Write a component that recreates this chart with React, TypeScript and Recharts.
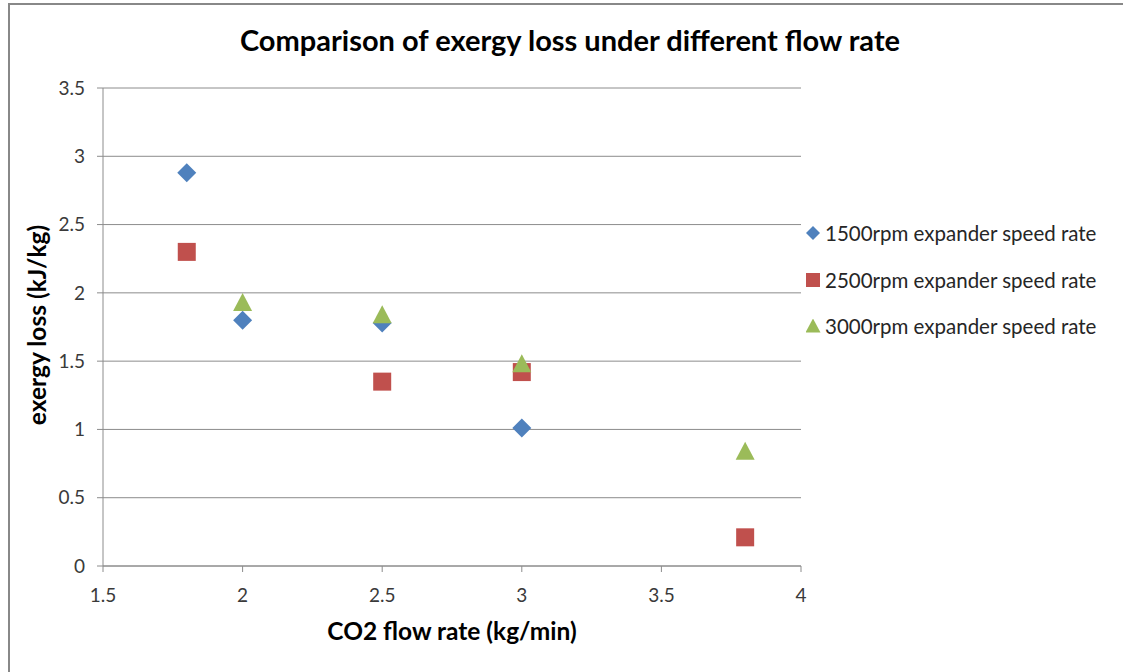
import React from "react";
import {
  CartesianGrid,
  Scatter,
  ScatterChart,
  XAxis,
  YAxis,
} from "recharts";

const flow1500 = [1.8, 2, 2.5, 3];
const loss1500 = [2.88, 1.8, 1.78, 1.01];
const flow2500 = [1.8, 2.5, 3, 3.8];
const loss2500 = [2.3, 1.35, 1.42, 0.21];
const flow3000 = [2, 2.5, 3, 3.8];
const loss3000 = [1.93, 1.84, 1.48, 0.84];

const xTicks = [1.5, 2, 2.5, 3, 3.5, 4];
const yTicks = [0, 0.5, 1, 1.5, 2, 2.5, 3, 3.5];

const seriesNames = [
  "1500rpm expander speed rate",
  "2500rpm expander speed rate",
  "3000rpm expander speed rate",
];

const BLUE = "#4F81BD";
const RED = "#C0504D";
const GREEN = "#9BBB59";
const GRID = "#8c8c8c";
const TEXT = "#3a3a3a";
const FONT = "Lato, 'Open Sans', sans-serif";

function toPoints(xs: number[], ys: number[]) {
  return xs.map((x, i) => ({ x, y: ys[i] }));
}

function Diamond({ cx, cy, r = 9.5, fill = BLUE }: any) {
  return (
    <path
      d={`M${cx},${cy - r} L${cx + r},${cy} L${cx},${cy + r} L${cx - r},${cy} Z`}
      fill={fill}
    />
  );
}

function Square({ cx, cy, r = 9, fill = RED }: any) {
  return <rect x={cx - r} y={cy - r} width={r * 2} height={r * 2} fill={fill} />;
}

function Triangle({ cx, cy, r = 9.5, fill = GREEN }: any) {
  return (
    <path
      d={`M${cx},${cy - r} L${cx + r},${cy + r - 1} L${cx - r},${cy + r - 1} Z`}
      fill={fill}
    />
  );
}

// legend drawn beside the plot, like Excel's right-hand legend
function LegendBox() {
  const markers = [
    <Diamond cx={7} cy={7} r={7} />,
    <Square cx={7} cy={7} r={7} />,
    <Triangle cx={7} cy={7} r={7.5} />,
  ];
  return (
    <div
      style={{
        position: "absolute",
        left: 806,
        top: 210,
        fontFamily: FONT,
        fontSize: 20.5,
        color: "#262626",
      }}
    >
      {seriesNames.map((name, i) => (
        <div
          key={name}
          style={{ display: "flex", alignItems: "center", height: 46.5, whiteSpace: "nowrap" }}
        >
          <svg width={16} height={14} style={{ marginRight: 3 }}>
            {markers[i]}
          </svg>
          <span>{name}</span>
        </div>
      ))}
    </div>
  );
}

export default function App() {
  return (
    <div
      style={{
        position: "absolute",
        left: 0,
        top: 0,
        width: 1123,
        height: 672,
        background: "#fff",
        fontFamily: FONT,
        overflow: "hidden",
      }}
    >
      <div
        style={{
          position: "absolute",
          left: 8,
          top: 3,
          width: 1115,
          height: 669,
          borderTop: "2px solid #888",
          borderLeft: "2px solid #888",
        }}
      />
      <div
        style={{
          position: "absolute",
          left: 0,
          top: 22,
          width: 1140,
          textAlign: "center",
          fontSize: 29,
          fontWeight: 700,
          color: "#000",
        }}
      >
        Comparison of exergy loss under different flow rate
      </div>
      <div
        style={{
          position: "absolute",
          left: 36,
          top: 325,
          transform: "translate(-50%, -50%) rotate(-90deg)",
          whiteSpace: "nowrap",
          fontSize: 24.5,
          fontWeight: 700,
          color: "#000",
        }}
      >
        exergy loss (kJ/kg)
      </div>
      <div
        style={{
          position: "absolute",
          left: 103,
          width: 698,
          top: 616,
          textAlign: "center",
          fontSize: 24.5,
          fontWeight: 700,
          color: "#000",
        }}
      >
        CO2 flow rate (kg/min)
      </div>
      <div style={{ position: "absolute", left: 0, top: 0 }}>
        <ScatterChart
          width={1123}
          height={672}
          margin={{ top: 88, right: 322, bottom: 76, left: 43 }}
        >
          <CartesianGrid
            horizontal
            vertical={false}
            stroke={GRID}
            strokeWidth={1}
          />
          <XAxis
            type="number"
            dataKey="x"
            domain={[1.5, 4]}
            ticks={xTicks}
            interval={0}
            allowDataOverflow
            height={30}
            stroke={GRID}
            tickSize={6}
            tickMargin={17}
            tick={{ fill: TEXT, fontSize: 19, fontFamily: FONT }}
            tickFormatter={(v) => String(v)}
          />
          <YAxis
            type="number"
            dataKey="y"
            domain={[0, 3.5]}
            ticks={yTicks}
            interval={0}
            allowDataOverflow
            width={60}
            stroke={GRID}
            tickSize={6}
            tickMargin={12}
            tick={{ fill: TEXT, fontSize: 19, fontFamily: FONT }}
            tickFormatter={(v) => String(v)}
          />
          <Scatter
            name={seriesNames[0]}
            data={toPoints(flow1500, loss1500)}
            shape={<Diamond />}
            isAnimationActive={false}
          />
          <Scatter
            name={seriesNames[1]}
            data={toPoints(flow2500, loss2500)}
            shape={<Square />}
            isAnimationActive={false}
          />
          <Scatter
            name={seriesNames[2]}
            data={toPoints(flow3000, loss3000)}
            shape={<Triangle />}
            isAnimationActive={false}
          />
        </ScatterChart>
      </div>
      <LegendBox />
    </div>
  );
}
